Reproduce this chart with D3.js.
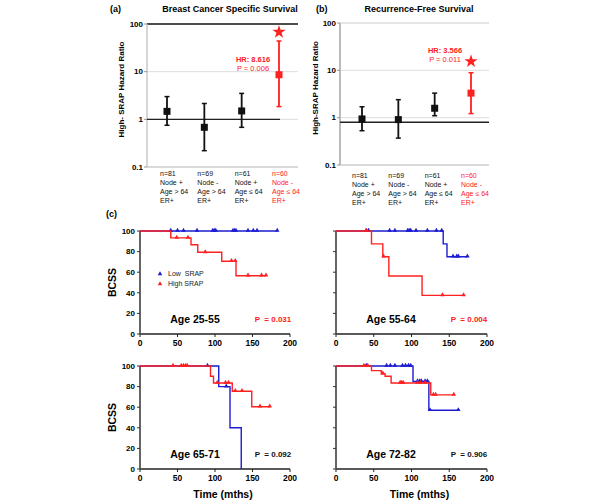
<!DOCTYPE html>
<html><head><meta charset="utf-8">
<script src="https://cdn.jsdelivr.net/npm/d3@7"></script>
<style>body{margin:0;background:#fff} svg{display:block;font-family:"Liberation Sans",Arial,sans-serif}</style>
</head><body><svg id="c" width="600" height="504"></svg>
<script>
const RED = "#ff2020", BLUE = "#1c1cd0";

// ---------- Hazard ratio panels ----------
const hrTicks = [0.1, 1, 10, 100];
const catA = [["n=81","Node +","Age > 64","ER+"],["n=69","Node -","Age > 64","ER+"],["n=61","Node +","Age \u2264 64","ER+"],["n=60","Node -","Age \u2264 64","ER+"]];
const catB = catA;
const hrA = [1.47, 0.68, 1.5, 8.616];
const loA = [0.75, 0.22, 0.68, 1.85];
const hiA = [3.0, 2.15, 3.5, 44];
const starA = 68;
const hrB = [0.94, 0.91, 1.58, 3.3];
const loB = [0.53, 0.37, 1.1, 1.22];
const hiB = [1.7, 2.4, 3.3, 8.9];
const starB = 15.5;
const refB = 0.8;

// ---------- Kaplan-Meier panels ----------
const kmXTicks = [0, 50, 100, 150, 200];
const kmYTicks = [0, 20, 40, 60, 80, 100];
// Age 25-55
const low1 = [[0,100]], low1End = 183, low1Cens = [41,50,58,76,97,99,101,124,126,128,144,151,156,183];
const high1 = [[0,100],[41,93.3],[68,86.7],[77,79.3],[109,70.7],[128,56.6]], high1End = 168, high1Cens = [49,64,87,122,127,144,162,168];
// Age 55-64
const low2 = [[0,100],[142,87.5],[147,75]], low2End = 174, low2Cens = [40,43,71,78,95,97,99,106,121,133,140,155,160,162,174];
const high2 = [[0,100],[47,87.5],[62,75],[70,56.25],[114,37.5]], high2End = 169, high2Cens = [40,63,141,169];
// Age 65-71
const low3 = [[0,100],[105,80],[120,40],[135,0]], low3End = 135, low3Cens = [90,115];
const high3 = [[0,100],[94,90],[98,83.5],[123,75.5],[149,60.5]], high3End = 173, high3Cens = [44,55,58,61,63,103,114,118,127,136,160,173];
// Age 72-82
const low4 = [[0,100],[102,85],[123,57]], low4End = 162, low4Cens = [40,67,72,78,88,92,96,99,108,111,113,118,121,124.5,162];
const high4 = [[0,100],[47,95.5],[60,92.5],[65,90],[73,83.5],[125.5,72]], high4End = 156, high4Cens = [37,42,62,85,87,89,108,112,118,129,132,156];

const svg = d3.select("#c");

function drawHR(o) {
  const g = svg.append("g");
  const y = d3.scaleLog().domain([0.1, 100]).range([o.yBot, o.yTop]);
  const x = d3.scalePoint().domain(d3.range(4)).range(o.xPts);
  // frame & gridlines
  g.append("line").attr("x1", o.x0).attr("x2", o.x1).attr("y1", y(10)).attr("y2", y(10)).attr("stroke", "#ddd").attr("stroke-width", 1);
  g.append("line").attr("x1", o.x0).attr("x2", o.x1).attr("y1", y(1)).attr("y2", y(1)).attr("stroke", "#ddd").attr("stroke-width", 1);
  g.append("line").attr("x1", o.x0).attr("x2", o.x1).attr("y1", y(0.1)).attr("y2", y(0.1)).attr("stroke", "#ccc").attr("stroke-width", 1.5);
  g.append("line").attr("x1", o.x0).attr("x2", o.x1).attr("y1", y(100)).attr("y2", y(100)).attr("stroke", o.topColor).attr("stroke-width", 1.5);
  g.append("line").attr("x1", o.x0).attr("x2", o.x0).attr("y1", y(100)).attr("y2", y(0.1)).attr("stroke", "#bbb").attr("stroke-width", o.axisW);
  g.append("line").attr("x1", o.x0).attr("x2", o.refX1).attr("y1", y(o.ref)).attr("y2", y(o.ref)).attr("stroke", "#222").attr("stroke-width", 1.3);
  g.selectAll(".tk").data(hrTicks).join("line").attr("x1", o.x0 - 3).attr("x2", o.x0).attr("y1", d => y(d)).attr("y2", d => y(d)).attr("stroke", "#999");
  g.selectAll(".tl").data(hrTicks).join("text").attr("x", o.x0 - 4).attr("y", d => y(d)).attr("dy", "0.35em")
    .attr("text-anchor", "end").attr("font-size", 8).attr("font-weight", "bold").text(d => d);
  // y label
  g.append("text").attr("transform", `translate(${o.ylx},${(y(100)+y(0.1))/2 - 6}) rotate(-90)`).attr("text-anchor", "middle")
    .attr("font-size", 8).attr("font-weight", "bold").text(o.ylabel);
  // titles
  g.append("text").attr("x", o.titleX).attr("y", 12).attr("text-anchor", "middle").attr("font-size", 9).attr("font-weight", "bold").text(o.title);
  g.append("text").attr("x", o.tagX).attr("y", 12).attr("font-size", 9).attr("font-weight", "bold").text(o.tag);
  // error bars
  o.hr.forEach((v, i) => {
    const c = i === 3 ? RED : "#111";
    const cx = x(i);
    g.append("line").attr("x1", cx).attr("x2", cx).attr("y1", y(o.hi[i])).attr("y2", y(o.lo[i])).attr("stroke", c).attr("stroke-width", 1.8);
    [o.hi[i], o.lo[i]].forEach(e => g.append("line").attr("x1", cx - 2.5).attr("x2", cx + 2.5).attr("y1", y(e)).attr("y2", y(e)).attr("stroke", c).attr("stroke-width", 1.5));
    g.append("rect").attr("x", cx - 3.5).attr("y", y(v) - 3.5).attr("width", 7).attr("height", 7).attr("fill", c);
  });
  g.append("path").attr("d", d3.symbol(d3.symbolStar, 55)()).attr("transform", `translate(${x(3)},${y(o.star)})`).attr("fill", RED);
  // HR label
  g.append("text").attr("x", o.hrX).attr("y", o.hrY).attr("text-anchor", "middle").attr("font-size", 7.5).attr("font-weight", "bold").attr("fill", RED).text(o.hrText);
  g.append("text").attr("x", o.hrX).attr("y", o.hrY + 8.5).attr("text-anchor", "middle").attr("font-size", 7.5).attr("fill", RED).text(o.pText);
  // category labels
  o.cats.forEach((lines, i) => {
    const t = g.append("text").attr("x", x(i) + o.catDx).attr("y", o.catY).attr("font-size", 7).attr("fill", i === 3 ? RED : "#111");
    lines.forEach((s, j) => t.append("tspan").attr("x", x(i) + o.catDx).attr("dy", j ? 9 : 0).text(s));
  });
}

drawHR({hr: hrA, lo: loA, hi: hiA, star: starA, cats: catA, yTop: 24, yBot: 167, xPts: [167, 279], x0: 147, x1: 298, refX1: 280, ref: 1,
  topColor: "#111", axisW: 1.2, ylx: 124, ylabel: "High- SRAP Hazard Ratio", title: "Breast Cancer Specific Survival", titleX: 230,
  tag: "(a)", tagX: 110, hrX: 253, hrY: 62, hrText: "HR: 8.616", pText: "P = 0.006", catDx: -7, catY: 176});
drawHR({hr: hrB, lo: loB, hi: hiB, star: starB, cats: catB, yTop: 23, yBot: 165, xPts: [362, 471], x0: 340, x1: 489, refX1: 489, ref: refB,
  topColor: "#ddd", axisW: 2, ylx: 318, ylabel: "High-SRAP Hazard Ratio", title: "Recurrence-Free Survival", titleX: 419,
  tag: "(b)", tagX: 316, hrX: 445, hrY: 53, hrText: "HR: 3.566", pText: "P = 0.011", catDx: -10, catY: 178});

svg.append("text").attr("x", 106).attr("y", 217).attr("font-size", 9).attr("font-weight", "bold").text("(c)");

function survAt(steps, t) {
  let s = steps[0][1];
  steps.forEach(d => { if (d[0] <= t) s = d[1]; });
  return s;
}

function drawKM(o) {
  const g = svg.append("g");
  const x = d3.scaleLinear().domain([0, 200]).range(o.xr);
  const y = d3.scaleLinear().domain([0, 100]).range(o.yr);
  // axes
  g.append("line").attr("x1", x(0)).attr("x2", x(200)).attr("y1", y(0)).attr("y2", y(0)).attr("stroke", "#222").attr("stroke-width", 1.3);
  g.append("line").attr("x1", x(0)).attr("x2", x(0)).attr("y1", y(0)).attr("y2", y(100)).attr("stroke", "#555").attr("stroke-width", 1.8);
  g.selectAll(".xt").data(kmXTicks).join("line").attr("x1", d => x(d)).attr("x2", d => x(d)).attr("y1", y(0)).attr("y2", y(0) + 3).attr("stroke", "#222");
  g.selectAll(".xl").data(kmXTicks).join("text").attr("x", d => x(d)).attr("y", y(0) + 12).attr("text-anchor", "middle")
    .attr("font-size", 8.5).attr("font-weight", "bold").text(d => d);
  g.selectAll(".yt").data(kmYTicks).join("line").attr("x1", x(0) - 3).attr("x2", x(0)).attr("y1", d => y(d)).attr("y2", d => y(d)).attr("stroke", "#333");
  if (o.yLabels) {
    g.selectAll(".yl").data(kmYTicks).join("text").attr("x", x(0) - 5).attr("y", d => y(d)).attr("dy", "0.35em").attr("text-anchor", "end")
      .attr("font-size", 8).attr("font-weight", "bold").text(d => d);
    g.append("text").attr("transform", `translate(${x(0) - 24},${(y(0) + y(100)) / 2}) rotate(-90)`).attr("text-anchor", "middle")
      .attr("font-size", 10.5).attr("font-weight", "bold").text("BCSS");
  }
  if (o.xTitle) {
    g.append("text").attr("x", (x(0) + x(200)) / 2 + 8).attr("y", y(0) + 29).attr("text-anchor", "middle")
      .attr("font-size", 10.5).attr("font-weight", "bold").text("Time (mths)");
  }
  const line = d3.line().x(d => x(d[0])).y(d => y(d[1])).curve(d3.curveStepAfter);
  [[o.low, o.lowEnd, o.lowCens, BLUE], [o.high, o.highEnd, o.highCens, RED]].forEach(([st, end, cens, c]) => {
    const pts = st.concat([[end, st[st.length - 1][1]]]);
    g.append("path").attr("d", line(pts)).attr("fill", "none").attr("stroke", c).attr("stroke-width", 1.4);
    g.selectAll(null).data(cens).join("path").attr("d", d3.symbol(d3.symbolTriangle, 9)())
      .attr("transform", d => `translate(${x(d)},${y(survAt(st, d)) - 0.5})`).attr("fill", c);
  });
  g.append("text").attr("x", x(0) + 55).attr("y", y(0) - 11).attr("text-anchor", "middle").attr("font-size", 10.5).attr("font-weight", "bold").text(o.age);
  g.append("text").attr("x", x(0) + 133).attr("y", y(0) - 12).attr("text-anchor", "middle").attr("font-size", 8).attr("font-weight", "bold")
    .attr("fill", o.pRed ? RED : "#111").attr("xml:space", "preserve").text(o.p);
  if (o.legend) {
    [["Low  SRAP", BLUE, 274], ["High SRAP", RED, 284]].forEach(([t, c, yy]) => {
      g.append("path").attr("d", d3.symbol(d3.symbolTriangle, 9)()).attr("transform", `translate(${x(0) + 20},${yy})`).attr("fill", c);
      g.append("text").attr("x", x(0) + 28).attr("y", yy).attr("dy", "0.35em").attr("font-size", 7).attr("fill", "#222").attr("xml:space", "preserve").text(t);
    });
  }
}

drawKM({xr: [140, 290], yr: [334, 231], yLabels: true, xTitle: false, low: low1, lowEnd: low1End, lowCens: low1Cens,
  high: high1, highEnd: high1End, highCens: high1Cens, age: "Age 25-55", p: "P  = 0.031", pRed: true, legend: true});
drawKM({xr: [336, 487], yr: [334, 231], yLabels: false, xTitle: false, low: low2, lowEnd: low2End, lowCens: low2Cens,
  high: high2, highEnd: high2End, highCens: high2Cens, age: "Age 55-64", p: "P  = 0.004", pRed: true, legend: false});
drawKM({xr: [140, 290], yr: [469, 366], yLabels: true, xTitle: true, low: low3, lowEnd: low3End, lowCens: low3Cens,
  high: high3, highEnd: high3End, highCens: high3Cens, age: "Age 65-71", p: "P  = 0.092", pRed: false, legend: false});
drawKM({xr: [336, 487], yr: [469, 366], yLabels: false, xTitle: true, low: low4, lowEnd: low4End, lowCens: low4Cens,
  high: high4, highEnd: high4End, highCens: high4Cens, age: "Age 72-82", p: "P  = 0.906", pRed: false, legend: false});
</script></body></html>
